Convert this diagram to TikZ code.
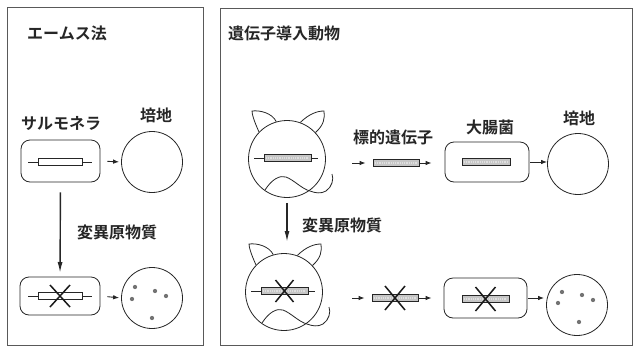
\documentclass[tikz,border=0pt]{standalone}
\usepackage{fontspec}
\newfontfamily\jp{Noto Sans CJK JP}[UprightFont=* Bold]
\usetikzlibrary{arrows.meta,calc}

\tikzset{
  ink/.style={draw=black!85, line width=0.8pt},
  panel/.style={draw=black!65, line width=1pt},
  lbl/.style={font=\jp\fontsize{16}{16}\selectfont, text=black!85, inner sep=0pt},
  cell/.style={ink, rounded corners=9pt, inner sep=0pt},
  dish/.style={ink, circle, inner sep=0pt, minimum size=61pt},
  head/.style={ink, circle, inner sep=0pt, minimum size=77pt},
  plainbar/.style={ink, line width=0.7pt, fill=white, inner sep=0pt, minimum width=44pt, minimum height=6.5pt},
  genebar/.style={ink, line width=0.7pt, fill=gray!45, inner sep=0pt, minimum height=6.5pt,
    path picture={\draw[white!75!gray, line width=1.2pt, dash pattern=on 1pt off 0.8pt]
      ([xshift=2pt]path picture bounding box.west) -- ([xshift=-2pt]path picture bounding box.east);}},
  arr/.style={draw=black!85, line width=0.9pt, -{Latex[length=6pt,width=4.5pt]}},
  bigarr/.style={draw=black!85, line width=1.4pt, -{Latex[length=11pt,width=5pt]}},
  xmark/.style={draw=black!90, line width=1.5pt},
  colony/.style={circle, fill=black!55, inner sep=0pt, minimum size=4.3pt},
  catface/.pic={
    \node[head] (-head) at (0,0) {};
    % ears
    \draw[ink] (-head.136) .. controls (-33,-38) and (-35,-45) .. (-35,-48)
      .. controls (-27,-49) and (-15,-46) .. (-head.106);
    \draw[ink] (-head.70) .. controls (22,-45) and (30,-48) .. (37,-48)
      .. controls (38,-41) and (37,-34) .. (-head.43);
    % mouth and tail
    \draw[ink] (-22,31) .. controls (-15,20) and (-7,16) .. (-1,18)
      .. controls (7,21) and (15,30) .. (23,32)
      .. controls (28,34) and (34,35) .. (39,32)
      .. controls (45,28) and (47,20) .. (45,15);
    % marker bar
    \draw[ink, line width=0.7pt] (-33,-1) -- (31,-1);
    \node[genebar, minimum width=47pt] (-gene) at (0.5,-1) {};
  }
}

\begin{document}
\begin{tikzpicture}[x=1pt, y=-1pt]
\path[use as bounding box] (0,0) rectangle (635,349);

% ---------- Ames test ----------
\draw[panel] (7,7) rectangle (203,345);
\node[lbl] (amesT) at (67,33) {エームス法};
\node[lbl] (salT) at (61,123) {サルモネラ};
\node[lbl] (medT1) at (156,115) {培地};

\node[cell, minimum width=79pt, minimum height=42pt] (cellA) at (60.5,161) {};
\draw[ink, line width=0.7pt] (28,162) -- (92,162);
\node[plainbar] (barA) at (60,162) {};
\node[dish] (dishA) at (152,162) {};
\draw[arr, shorten <=7pt, shorten >=2pt] (cellA.east) -- (dishA.west);

\coordinate (mutEndA) at (60,277);
\draw[bigarr, shorten <=10pt, shorten >=4pt] (cellA.south) -- (mutEndA);
\node[lbl] (mutT1) at (117,232) {変異原物質};

\node[cell, minimum width=80pt, minimum height=38pt] (cellB) at (60,296) {};
\draw[ink, line width=0.7pt] (28,296) -- (92,296);
\node[plainbar] (barB) at (60,296) {};
\draw[xmark] (barB.center) +(-10,-11) -- +(10,11) +(10,-11) -- +(-10,11);
\node[dish] (dishB) at (152,298) {};
\draw[arr, shorten <=7pt, shorten >=2pt] (cellB.east) -- (dishB.west);
\foreach \p in {(135,287),(132,299),(155,291),(166,296),(152,318)}
  \node[colony] at \p {};

% ---------- transgenic animal ----------
\draw[panel] (220,8) rectangle (632,345);
\node[lbl] (tgT) at (284,33) {遺伝子導入動物};

% upper row
\pic (cat1) at (287,159) {catface};
\node[lbl] (tgtT) at (393,137) {標的遺伝子};
\node[genebar, minimum width=46pt] (gene1) at (396,163) {};
\node[lbl] (ecoT) at (490,127) {大腸菌};
\node[cell, minimum width=84pt, minimum height=40pt] (box1) at (487,162) {};
\node[genebar, minimum width=48pt] (gene1b) at (486,162) {};
\node[lbl] (medT2) at (579,118) {培地};
\node[dish] (dish1) at (578,164) {};
\coordinate (out1) at (352,163);
\draw[arr, shorten >=7pt] (out1) -- (gene1.west);
\draw[arr, shorten <=1pt, shorten >=13pt] (gene1.east) -- (box1.west |- gene1.east);
\draw[arr, shorten <=1pt] (box1.east) -- (dish1.west |- box1.east);

% mutagen
\coordinate (mutEndB) at (287,245);
\draw[bigarr, shorten <=5pt, shorten >=3pt] (cat1-head.south) -- (mutEndB);
\node[lbl] (mutT2) at (342,225) {変異原物質};

% lower row
\pic (cat2) at (284,292) {catface};
\draw[xmark] (cat2-gene.center) +(-9,-11) -- +(9,11) +(9,-11) -- +(-9,11);
\node[genebar, minimum width=46pt] (gene2) at (395,298) {};
\draw[xmark] (gene2.center) +(-10,-12) -- +(10,12) +(10,-12) -- +(-10,12);
\node[cell, minimum width=83pt, minimum height=40pt] (box2) at (485.5,298) {};
\node[genebar, minimum width=47pt] (gene2b) at (485.5,299) {};
\draw[xmark] (gene2b.center) +(-10,-12) -- +(10,12) +(10,-12) -- +(-10,12);
\node[dish] (dish2) at (577,305) {};
\coordinate (out2) at (352,298);
\draw[arr, shorten >=7pt] (out2) -- (gene2.west);
\draw[arr, shorten <=1pt, shorten >=12pt] (gene2.east) -- (box2.west |- gene2.east);
\draw[arr, shorten <=1pt, shorten >=2pt] (box2.east) -- (dish2.west |- box2.east);
\foreach \p in {(562,292),(558,303),(582,295),(593,300),(579,322)}
  \node[colony] at \p {};
\end{tikzpicture}
\end{document}
